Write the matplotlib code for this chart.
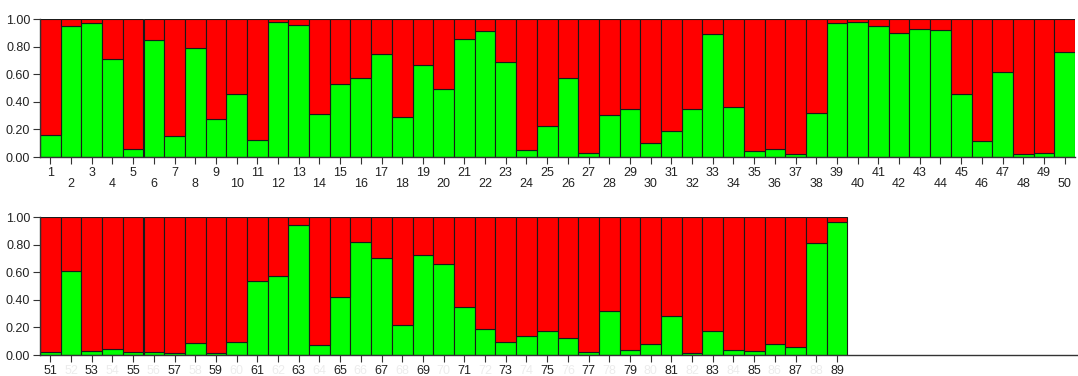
import matplotlib.pyplot as plt
from matplotlib import font_manager

# membership proportions (cluster 1 = green) per individual
ids_top = list(range(1, 51))
green_top = [0.16, 0.95, 0.97, 0.71, 0.06, 0.85, 0.15, 0.79, 0.275, 0.46,
             0.125, 0.98, 0.955, 0.31, 0.53, 0.576, 0.75, 0.29, 0.67, 0.49,
             0.855, 0.91, 0.69, 0.053, 0.227, 0.576, 0.03, 0.306, 0.347, 0.10,
             0.188, 0.347, 0.894, 0.36, 0.04, 0.055, 0.02, 0.316, 0.97, 0.976,
             0.95, 0.90, 0.93, 0.92, 0.455, 0.113, 0.614, 0.02, 0.03, 0.764]

ids_bot = list(range(51, 90))
green_bot = [0.02, 0.606, 0.026, 0.041, 0.022, 0.02, 0.015, 0.084, 0.015, 0.091,
             0.534, 0.57, 0.94, 0.07, 0.423, 0.817, 0.704, 0.219, 0.724, 0.661,
             0.351, 0.19, 0.096, 0.135, 0.175, 0.125, 0.024, 0.317, 0.038, 0.077,
             0.28, 0.017, 0.175, 0.038, 0.031, 0.077, 0.055, 0.81, 0.966]

yticks = [0.0, 0.2, 0.4, 0.6, 0.8, 1.0]

names = {f.name for f in font_manager.fontManager.ttflist}
fam = 'Liberation Sans Narrow' if 'Liberation Sans Narrow' in names else 'Liberation Sans'
plt.rcParams['font.family'] = [fam, 'DejaVu Sans']

W, H = 1078, 376
fig = plt.figure(figsize=(W / 100, H / 100), dpi=100)
slot = 1035 / 50  # pixels per bar


def panel(top_px, bot_px, ids, green, two_rows, right_px=1075):
    ax = fig.add_axes([40 / W, 1 - bot_px / H, (right_px - 40) / W, (bot_px - top_px) / H])
    red = [1 - g for g in green]
    pos = list(range(1, len(ids) + 1))
    ax.bar(pos, green, width=1.0, color='#00ff00', edgecolor='#1a1a1a', linewidth=0.8)
    ax.bar(pos, red, bottom=green, width=1.0, color='#ff0000', edgecolor='#1a1a1a', linewidth=0.8)
    ax.set_xlim(0.5, 0.5 + (right_px - 40) / slot)
    ax.set_ylim(0, 1)
    for s in ('top', 'right'):
        ax.spines[s].set_visible(False)
    for s in ('left', 'bottom'):
        ax.spines[s].set_color('#333333')
        ax.spines[s].set_linewidth(1.0)
    ax.tick_params(axis='both', labelsize=9, colors='#333333', length=5, width=0.8, pad=2)
    ax.set_yticks(yticks)
    ax.set_yticklabels([f'{v:.2f}' for v in yticks], color='#222222')
    ax.set_xticks(pos)
    if two_rows:
        ax.set_xticklabels([str(i) if k % 2 == 0 else '\n' + str(i) for k, i in enumerate(ids)],
                           linespacing=0.95, color='#222222')
    else:
        ax.set_xticklabels([str(i) for i in ids], color='#222222')
        # even ids are printed very faintly on the lower panel
        for k, lab in enumerate(ax.get_xticklabels()):
            if k % 2 == 1:
                lab.set_color('#ececec')
    return ax


panel(19, 157, ids_top, green_top, True)
panel(217, 355, ids_bot, green_bot, False, right_px=1078)

fig.savefig('out.png', dpi=100)
